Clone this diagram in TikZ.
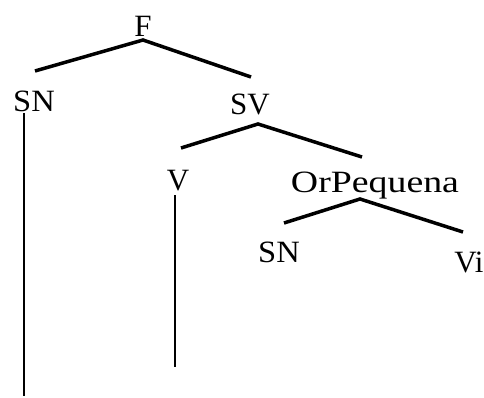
\documentclass[tikz,border=0pt]{standalone}
\usepackage{fontspec}
\setmainfont{Liberation Serif}
\begin{document}
\begin{tikzpicture}[x=1pt,y=-1pt,
  lbl/.style={inner sep=0pt,anchor=base,font=\fontsize{31}{31}\selectfont},
  branch/.style={line width=3.5pt},
  stem/.style={line width=2.5pt}]
\useasboundingbox (0,0) rectangle (484,398);
% labels
\node[lbl] (F) at (143,37) {F};
\node[lbl,xscale=1.05] (SN1) at (34,112) {SN};
\node[lbl] (SV) at (250,115) {SV};
\node[lbl] (V) at (178,190) {V};
\node[lbl,xscale=1.22] (OP) at (375,192) {OrPequena};
\node[lbl,xscale=1.05] (SN2) at (279,262) {SN};
\node[lbl] (Vi) at (469,272) {Vi};
% branch points
\coordinate (Fa) at (143,40);
\coordinate (Fl) at (35,71);
\coordinate (Fr) at (251,77);
\coordinate (SVa) at (258,124);
\coordinate (SVl) at (181,148);
\coordinate (SVr) at (362,157);
\coordinate (OPa) at (360,199);
\coordinate (OPl) at (284,223);
\coordinate (OPr) at (463,232);
\coordinate (SNt) at (24,113);
\coordinate (SNb) at (24,396);
\coordinate (Vt) at (175,195);
\coordinate (Vb) at (175,367);
% connectors
\draw[branch] (Fl) -- (Fa) -- (Fr);
\draw[branch] (SVl) -- (SVa) -- (SVr);
\draw[branch] (OPl) -- (OPa) -- (OPr);
\draw[stem] (SNt) -- (SNb);
\draw[stem] (Vt) -- (Vb);
\end{tikzpicture}
\end{document}
